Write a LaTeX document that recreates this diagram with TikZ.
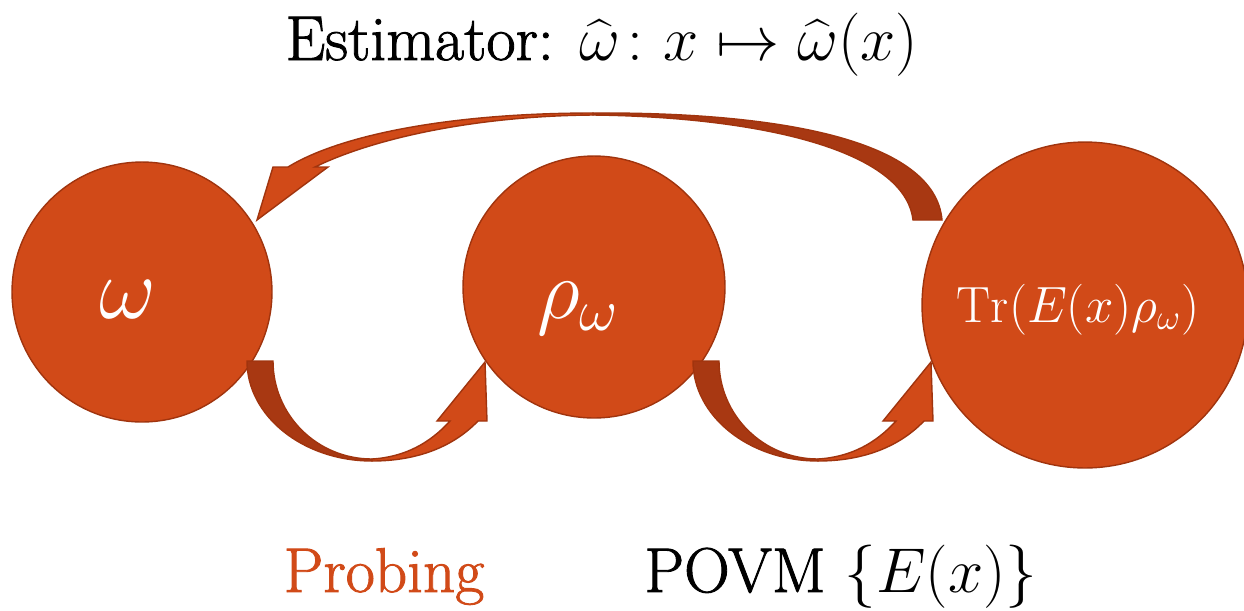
\RequirePackage{fix-cm}
\documentclass[tikz,border=0pt]{standalone}
\usepackage{amsmath}
\usepackage{fontspec}
\newfontfamily\slabfont{Latin Modern Roman}[FakeBold=1.4]
\definecolor{orng}{RGB}{209,74,24}
\definecolor{edgec}{RGB}{160,52,14}
\definecolor{tailc}{RGB}{168,56,18}
\begin{document}
\begin{tikzpicture}[x=0.02cm,y=-0.02cm,
  bubble/.style={circle,fill=orng,draw=edgec,line width=0.8pt,inner sep=0pt},
  headpart/.style={fill=orng,draw=edgec,line width=0.8pt,line join=miter},
  tailpart/.style={fill=tailc,draw=edgec,line width=0.8pt,line join=miter},
  bigtext/.style={font=\fontsize{36}{40}\selectfont,inner sep=0pt,anchor=base},
  inlabel/.style={text=white,inner sep=0pt,anchor=base}]
\useasboundingbox (0,0) rectangle (1244,610);
% circles
\node[bubble,minimum size=5.2cm] (c1) at (142,292) {};
\node[bubble,minimum size=5.24cm] (c2) at (594,287) {};
\node[bubble,minimum size=6.52cm] (c3) at (1085,305) {};
% labels inside circles
\node[inlabel,font=\fontsize{50}{54}\selectfont] (w) at (128,318) {$\omega$};
\node[inlabel,font=\fontsize{48}{52}\selectfont] (rw) at (578,318) {$\rho_\omega$};
\node[inlabel,font=\fontsize{29}{33}\selectfont] (tr) at (1078,322) {$\mathrm{Tr}(E(x)\rho_\omega)$};
% bottom U-shaped arrows
\foreach \d in {0,446}{
  \path[tailpart] ({247+\d},361) -- ({273+\d},361)
     .. controls ({273+\d},415) and ({317+\d},459) .. ({372+\d},459)
     -- ({372+\d},461)
     .. controls ({303+\d},461) and ({247+\d},416) .. ({247+\d},361) -- cycle;
  \path[headpart] ({372+\d},461)
     .. controls ({420+\d},461) and ({455+\d},445) .. ({478+\d},421)
     -- ({487+\d},421) -- ({485+\d},362) -- ({437+\d},421) -- ({450+\d},421)
     .. controls ({430+\d},443) and ({405+\d},457) .. ({372+\d},459) -- cycle;
}
% top arrow (from Tr back to omega)
\path[tailpart] (942,220) .. controls (935,140) and (780,112) .. (593,113)
   -- (593,115) .. controls (760,117) and (905,150) .. (913,220) -- cycle;
\path[headpart] (593,113) .. controls (450,113) and (340,135) .. (288,167)
   -- (273,167) -- (257,220) -- (328,167) -- (315,167)
   .. controls (370,140) and (470,116) .. (593,115) -- cycle;
% texts
\node[bigtext] (title) at (602,60) {{\slabfont Estimator:} $\widehat{\omega}\colon x\mapsto \widehat{\omega}(x)$};
\node[bigtext,text=orng] (probing) at (384,592) {\slabfont Probing};
\node[bigtext] (povm) at (841,592) {{\slabfont POVM} $\{E(x)\}$};
\end{tikzpicture}
\end{document}
